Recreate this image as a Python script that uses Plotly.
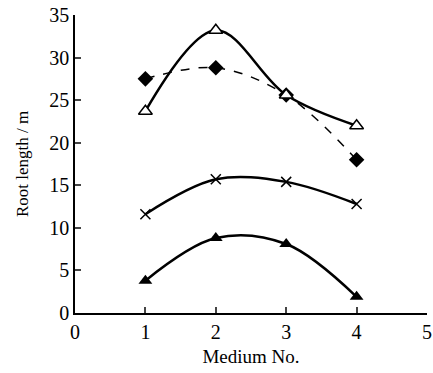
import plotly.graph_objects as go

medium = [1, 2, 3, 4]
open_triangle = [23.7, 33.2, 25.6, 22.0]
diamond = [27.5, 28.8, 25.6, 18.0]
cross = [11.6, 15.7, 15.4, 12.8]
filled_triangle = [3.8, 8.8, 8.1, 1.9]
x_ticks = [0, 1, 2, 3, 4, 5]
y_ticks = [0, 5, 10, 15, 20, 25, 30, 35]

fig = go.Figure()
fig.add_trace(go.Scatter(x=medium, y=diamond, mode="lines+markers",
                         line=dict(color="black", width=1.5, dash="dash", shape="spline", smoothing=1.0),
                         marker=dict(symbol="diamond", size=12, color="black")))
fig.add_trace(go.Scatter(x=medium, y=open_triangle, mode="lines+markers",
                         line=dict(color="black", width=2.5, shape="spline", smoothing=1.0),
                         marker=dict(symbol="triangle-up", size=12, color="white",
                                     line=dict(color="black", width=1.5))))
fig.add_trace(go.Scatter(x=medium, y=cross, mode="lines+markers",
                         line=dict(color="black", width=2.5, shape="spline", smoothing=1.0),
                         marker=dict(symbol="x-thin", size=10, color="black",
                                     line=dict(color="black", width=1.5))))
fig.add_trace(go.Scatter(x=medium, y=filled_triangle, mode="lines+markers",
                         line=dict(color="black", width=2.5, shape="spline", smoothing=1.0),
                         marker=dict(symbol="triangle-up", size=12, color="black")))

font = "Liberation Serif, Times New Roman, serif"
fig.update_layout(
    width=433, height=373,
    margin=dict(l=75, r=6, t=15, b=60),
    paper_bgcolor="white", plot_bgcolor="white",
    showlegend=False,
    font=dict(family=font, color="black"),
)
fig.update_xaxes(range=[0, 5], tickvals=x_ticks, ticks="inside", ticklen=6, tickwidth=1.5,
                 showline=True, linecolor="black", linewidth=1.5, showgrid=False, zeroline=False,
                 tickfont=dict(size=20, family=font), automargin=False,
                 title=dict(text="Medium No.", font=dict(size=19, family=font), standoff=8))
fig.update_yaxes(range=[0, 35], tickvals=y_ticks, ticks="inside", ticklen=6, tickwidth=1.5,
                 showline=True, linecolor="black", linewidth=1.5, showgrid=False, zeroline=False,
                 tickfont=dict(size=20, family=font), automargin=False,
                 title=dict(text="Root length / m", font=dict(size=17, family=font), standoff=16))

fig.write_html("out.html", config={"displayModeBar": False},
               post_script="document.body.style.margin='0';")
